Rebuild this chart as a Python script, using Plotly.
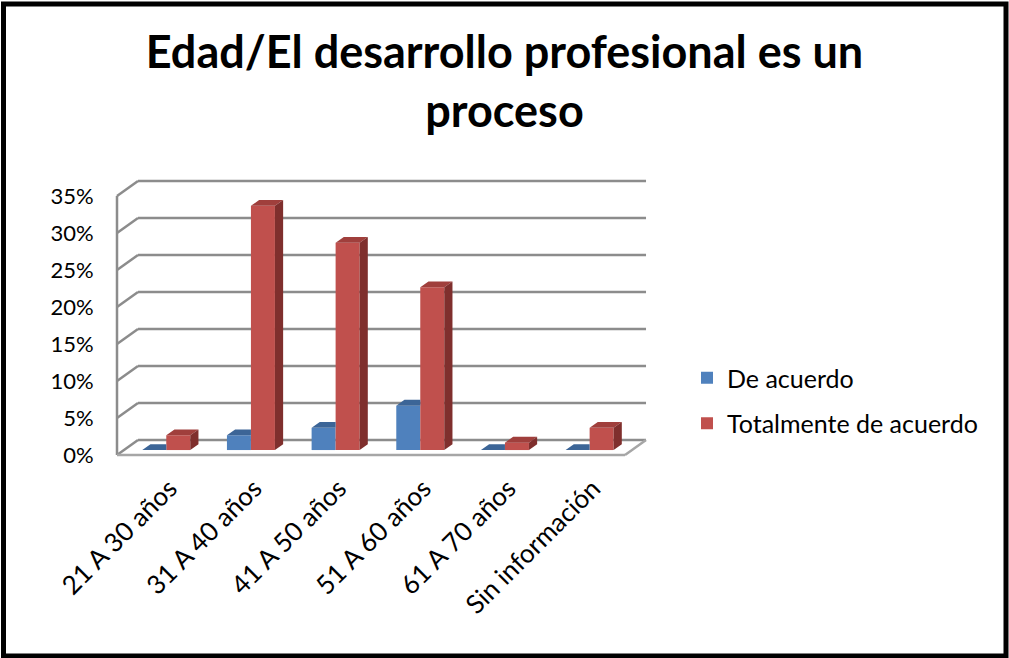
import plotly.graph_objects as go

# ---------------- data ----------------
categories = ["21 A 30 años", "31 A 40 años", "41 A 50 años", "51 A 60 años",
              "61 A 70 años", "Sin información"]
de_acuerdo = [0, 2, 3, 6, 0, 0]
totalmente = [2, 33, 28, 22, 1, 3]
series_names = ["De acuerdo", "Totalmente de acuerdo"]
y_ticks = [0, 5, 10, 15, 20, 25, 30, 35]
y_tick_labels = ["0%", "5%", "10%", "15%", "20%", "25%", "30%", "35%"]
title_text = "Edad/El desarrollo profesional es un<br>proceso"

# ---------------- styling / geometry ----------------
FONT = "Lato"
BLUE, BLUE_TOP = "#4F81BD", "#3C6597"
RED, RED_TOP, RED_SIDE = "#C0504D", "#A03F3C", "#7F2F2D"
GRID = "#8C8C8C"

W_FIG, H_FIG = 1009, 658
M_L, M_R, M_T, M_B = 110, 359, 175, 200
PX_X = 84.67          # pixels per category unit
PX_Y = 7.4            # pixels per percentage point
X_MIN = -0.5 - 7 / PX_X
X_MAX = X_MIN + (W_FIG - M_L - M_R) / PX_X
Y_MIN = -3 / PX_Y
Y_MAX = Y_MIN + (H_FIG - M_T - M_B) / PX_Y

DXU = 21 / PX_X       # depth offset of back wall (x units)
DYU = 15 / PX_Y       # depth offset of back wall (y units)
Z0, Z1 = 0.33, 0.72   # depth span of the bars
BW = 24 / PX_X        # bar width
FL, FR = -0.5, 5.5    # floor front edges

bx0, by0 = Z0 * DXU, Z0 * DYU
ddx, ddy = (Z1 - Z0) * DXU, (Z1 - Z0) * DYU

fig = go.Figure()

# front faces as bars
xs_blue = [i - BW / 2 + bx0 for i in range(len(categories))]
xs_red = [i + BW / 2 + bx0 for i in range(len(categories))]
fig.add_trace(go.Bar(x=xs_blue, y=de_acuerdo, base=by0, width=BW, name=series_names[0],
                     marker=dict(color=BLUE, line=dict(width=0)), legendgroup="a",
                     hoverinfo="skip"))
fig.add_trace(go.Bar(x=xs_red, y=totalmente, base=by0, width=BW, name=series_names[1],
                     marker=dict(color=RED, line=dict(width=0)), legendgroup="b",
                     hoverinfo="skip"))

# 3D faces (computed from the data)
blue_top_x, blue_top_y = [], []
red_top_x, red_top_y = [], []
red_side_x, red_side_y = [], []
for i, (vb, vr) in enumerate(zip(de_acuerdo, totalmente)):
    xl, xb, xr = i - BW + bx0, i + bx0, i + BW + bx0
    tb = by0 + vb
    # blue top, clipped where the red front face hides it
    blue_top_x += [xl, xb, xb, xl + ddx, xl, None]
    blue_top_y += [tb, tb, tb + ddy, tb + ddy, tb, None]
    tr = by0 + vr
    red_top_x += [xb, xr, xr + ddx, xb + ddx, xb, None]
    red_top_y += [tr, tr, tr + ddy, tr + ddy, tr, None]
    red_side_x += [xr, xr, xr + ddx, xr + ddx, xr, None]
    red_side_y += [by0, tr, tr + ddy, by0 + ddy, by0, None]

for xx, yy, col in [(blue_top_x, blue_top_y, BLUE_TOP),
                    (red_top_x, red_top_y, RED_TOP),
                    (red_side_x, red_side_y, RED_SIDE)]:
    fig.add_trace(go.Scatter(x=xx, y=yy, mode="lines", fill="toself", fillcolor=col,
                             line=dict(width=0, color=col), showlegend=False,
                             hoverinfo="skip"))

# walls and floor (drawn below the bars)
shapes = []
for v in y_ticks:
    shapes.append(dict(type="line", x0=FL + DXU, x1=FR + DXU, y0=v + DYU, y1=v + DYU,
                       line=dict(color=GRID, width=2.5), layer="below"))
    shapes.append(dict(type="line", x0=FL, x1=FL + DXU, y0=v, y1=v + DYU,
                       line=dict(color=GRID, width=2.5), layer="below"))
shapes.append(dict(type="line", x0=FL, x1=FL, y0=0, y1=y_ticks[-1],
                   line=dict(color=GRID, width=2.5), layer="below"))
shapes.append(dict(type="line", x0=FL, x1=FR, y0=0, y1=0,
                   line=dict(color="#A6A6A6", width=2.5), layer="below"))
shapes.append(dict(type="line", x0=FR, x1=FR + DXU, y0=0, y1=DYU,
                   line=dict(color="#A6A6A6", width=2.5), layer="below"))

pw = W_FIG - M_L - M_R
ph = H_FIG - M_T - M_B
def px2paper_x(p):
    return (p - M_L) / pw
def px2paper_y(p):
    return (H_FIG - M_B - p) / ph
shapes.append(dict(type="rect", xref="paper", yref="paper",
                   x0=px2paper_x(3.5), x1=px2paper_x(1006), y0=px2paper_y(4), y1=px2paper_y(656),
                   line=dict(color="black", width=5), layer="above"))

fig.update_layout(
    width=W_FIG, height=H_FIG,
    margin=dict(l=M_L, r=M_R, t=M_T, b=M_B, autoexpand=False),
    paper_bgcolor="white", plot_bgcolor="white",
    barmode="overlay",
    shapes=shapes,
    title=dict(text=title_text, x=0.5, xref="container", xanchor="center",
               y=1 - 68 / H_FIG, yanchor="top", yref="container",
               font=dict(family=FONT, size=45, color="black", weight="bold")),
    font=dict(family=FONT, size=22, color="black"),
    legend=dict(x=px2paper_x(687), y=px2paper_y(355), xanchor="left", yanchor="top",
                font=dict(family=FONT, size=25, color="black"),
                tracegroupgap=10, traceorder="grouped", bgcolor="rgba(0,0,0,0)"),
    xaxis=dict(range=[X_MIN, X_MAX], tickvals=[i + 0.12 for i in range(len(categories))],
               ticktext=categories, tickangle=-45, showgrid=False, zeroline=False,
               showline=False, ticks="outside", ticklen=4, tickcolor="rgba(0,0,0,0)",
               tickfont=dict(family=FONT, size=26, color="black"), fixedrange=True),
    yaxis=dict(range=[Y_MIN, Y_MAX], tickvals=y_ticks, ticktext=y_tick_labels,
               showgrid=False, zeroline=False, showline=False, ticks="outside",
               ticklen=11, tickcolor="rgba(0,0,0,0)",
               tickfont=dict(family=FONT, size=22, color="black"), fixedrange=True),
)

fig.write_html("out.html", config={"displayModeBar": False},
               post_script="document.body.style.margin='0';document.body.style.padding='0';")
